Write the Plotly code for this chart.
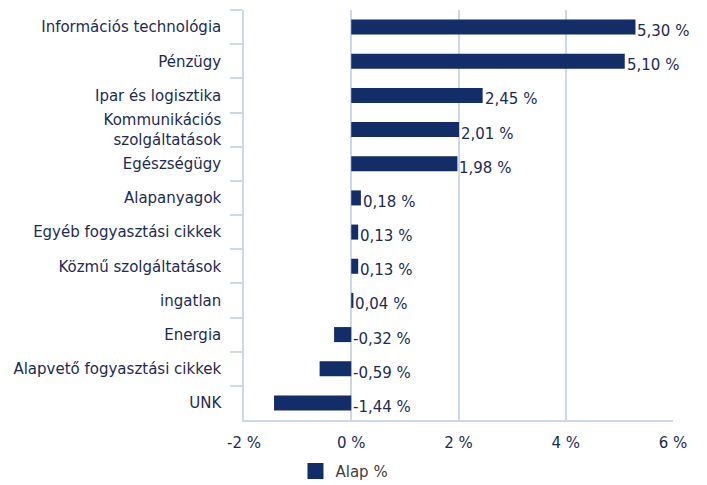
import plotly.graph_objects as go

# sectors, top to bottom as in the picture
categories = ['Információs technológia', 'Pénzügy', 'Ipar és logisztika',
              'Kommunikációs<br>szolgáltatások', 'Egészségügy', 'Alapanyagok',
              'Egyéb fogyasztási cikkek', 'Közmű szolgáltatások', 'ingatlan',
              'Energia', 'Alapvető fogyasztási cikkek', 'UNK']
values = [5.30, 5.10, 2.45, 2.01, 1.98, 0.18, 0.13, 0.13, 0.04, -0.32, -0.59, -1.44]

tick_vals = [-2, 0, 2, 4, 6]
tick_text = ['-2 %', '0 %', '2 %', '4 %', '6 %']

labels = [f'{v:.2f} %'.replace('.', ',') for v in values]
label_x = [max(v, 0) for v in values]

bar_col = '#132d69'
txt_col = '#1c2b57'
grid_col = '#cdd8e8'

fig = go.Figure()
fig.add_trace(go.Bar(x=values, y=categories, orientation='h',
                     marker=dict(color=bar_col, line=dict(width=0)),
                     showlegend=False))
# legend entry with a bigger square
fig.add_trace(go.Scatter(x=[None], y=[None], mode='markers', name='Alap %',
                         marker=dict(symbol='square', size=16, color=bar_col)))

# value labels sit to the right of the bar end (or of zero for negatives), a bit low
for xv, cat, lab in zip(label_x, categories, labels):
    fig.add_annotation(x=xv, y=cat, text=lab, showarrow=False,
                       xanchor='left', yanchor='middle', xshift=0, yshift=-4,
                       font=dict(size=15, color=txt_col))

# page body has an 8px margin, so the figure is a bit smaller than the window
fig.update_layout(
    width=699, height=477,
    margin=dict(l=236, r=34, t=2, b=65, autoexpand=False),
    plot_bgcolor='white', paper_bgcolor='white',
    font=dict(family='DejaVu Sans, Verdana, sans-serif', size=15, color=txt_col),
    bargap=0.56,
    showlegend=True,
    legend=dict(orientation='h', x=0.12, xanchor='left', y=-0.085, yanchor='top',
                font=dict(size=15, color='#404040')),
)
fig.update_xaxes(range=[-2, 6], tickvals=tick_vals, ticktext=tick_text,
                 showgrid=True, gridcolor=grid_col, gridwidth=1.5,
                 zeroline=False, showline=True, linecolor=grid_col, linewidth=1.5,
                 ticks='', ticklabelstandoff=8, automargin=False)
fig.update_yaxes(autorange='reversed', showgrid=False, zeroline=False,
                 showline=True, linecolor=grid_col, linewidth=1.5,
                 ticks='outside', tickson='boundaries', ticklen=12,
                 tickcolor=grid_col, tickwidth=1.5, ticklabelstandoff=18,
                 automargin=False)

fig.write_html('out.html')
